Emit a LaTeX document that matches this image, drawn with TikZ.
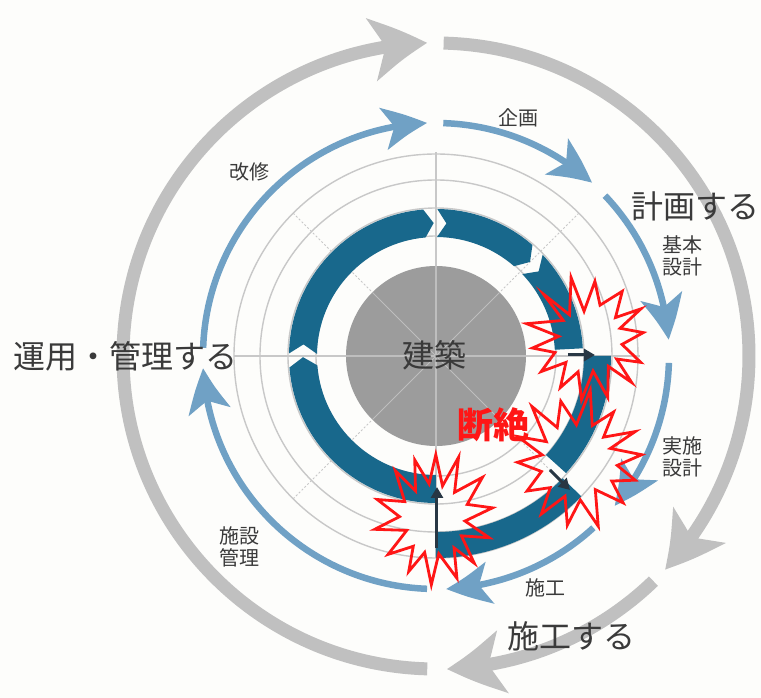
\documentclass[tikz,border=0pt]{standalone}
\usepackage{fontspec}
\newfontfamily\jp{Noto Sans CJK JP}
\usetikzlibrary{arrows.meta,bending,calc}
\definecolor{ringgray}{RGB}{192,192,192}
\definecolor{ringblue}{RGB}{112,161,197}
\definecolor{darkring}{RGB}{24,104,140}
\definecolor{diskgray}{RGB}{156,156,156}
\definecolor{gridgray}{RGB}{200,200,200}
\definecolor{disklines}{RGB}{190,190,190}
\definecolor{txtgray}{RGB}{58,58,58}
\definecolor{burstred}{RGB}{255,22,22}
\definecolor{darkarrow}{RGB}{40,55,68}
\definecolor{bgcol}{RGB}{253,253,251}
\begin{document}
\begin{tikzpicture}[x=1pt,y=1pt,
 outerring/.style={draw=ringgray,line width=13pt,-{Stealth[length=56pt,width=62pt,inset=14pt,bend]}},
 bluering/.style={draw=ringblue,line width=6.5pt,-{Stealth[length=44pt,width=42pt,inset=11pt,bend]}},
 gridline/.style={draw=gridgray,line width=1.4pt},
 diagline/.style={draw=gridgray,line width=1pt,dash pattern=on 2pt off 2pt},
 seg/.style={fill=darkring},
 tick/.style={draw=darkarrow,line width=3pt,-{Triangle[length=11pt,width=12pt]}},
 burst/.style={draw=burstred,line width=2.8pt,line join=miter,miter limit=20},
 bigtxt/.style={text=txtgray,font=\jp\fontsize{32}{32}\selectfont,inner sep=0pt},
 smalltxt/.style={text=txtgray,font=\jp\fontsize{20}{22}\selectfont,inner sep=0pt,align=center},
 redtxt/.style={text=burstred,font=\jp\bfseries\fontsize{36}{36}\selectfont,inner sep=0pt},
]
\useasboundingbox (-436,-342) rectangle (325,356);
\fill[bgcol] (-436,-342) rectangle (325,356);

% outer gray cycle
\draw[outerring] (268.4:313) arc[start angle=268.4,end angle=91.6,radius=313];
\draw[outerring] (88.6:313) arc[start angle=88.6,end angle=-43,radius=313];
\draw[outerring] (-46:313) arc[start angle=-46,end angle=-88,radius=313];

% blue cycle
\draw[bluering] (178:233) arc[start angle=178,end angle=92.2,radius=233];
\draw[bluering] (88.2:233) arc[start angle=88.2,end angle=48,radius=233];
\draw[bluering] (43.5:233) arc[start angle=43.5,end angle=4,radius=233];
\draw[bluering] (-1.7:233) arc[start angle=-1.7,end angle=-40,radius=233];
\draw[bluering] (-47.5:233) arc[start angle=-47.5,end angle=-87.5,radius=233];
\draw[bluering] (267.8:233) arc[start angle=267.8,end angle=183,radius=233];

% grid
\foreach \r in {120,148,176,202} \draw[gridline] (0,0) circle[radius=\r];
\draw[gridline] (-202,0) -- (204,0);
\draw[gridline] (0,-202) -- (0,204);
\foreach \a in {45,135,225,315} \draw[diagline] (0,0) -- (\a:202);

% centre disk
\node[circle,fill=diskgray,minimum size=180pt,inner sep=0pt] (disk) at (0,0) {};
\begin{scope}
 \clip (0,0) circle[radius=90];
 \draw[disklines,line width=1.4pt] (-90,0) -- (90,0) (0,-90) -- (0,90);
 \draw[disklines,line width=0.8pt] (45:90) -- (225:90) (135:90) -- (315:90);
\end{scope}

% dark segmented ring
\fill[seg] (270:147) arc[start angle=270,end angle=184.5,radius=147] -- (180.5:133) -- (184.5:119) arc[start angle=184.5,end angle=270,radius=119] -- cycle;
\fill[seg] (179:147) arc[start angle=179,end angle=95,radius=147] -- (91:133) -- (95:119) arc[start angle=95,end angle=179,radius=119] -- (175:133) -- cycle;
\fill[seg] (89.5:147) arc[start angle=89.5,end angle=49,radius=147] -- (45:133) -- (49:119) arc[start angle=49,end angle=89.5,radius=119] -- (85.5:133) -- cycle;
\fill[seg] (43.5:147) arc[start angle=43.5,end angle=3,radius=147] -- (3:119) arc[start angle=3,end angle=43.5,radius=119] -- (39.5:133) -- cycle;
\fill[seg] (0:175) arc[start angle=0,end angle=-42,radius=175] -- (-42:148) arc[start angle=-42,end angle=0,radius=148] -- cycle;
\fill[seg] (-44:202) arc[start angle=-44,end angle=-90,radius=202] -- (-90:176) arc[start angle=-90,end angle=-44,radius=176] -- cycle;

% small transfer arrows
\coordinate (t1a) at (132,1);
\coordinate (t1b) at (159,1);
\coordinate (t2a) at (114,-114);
\coordinate (t2b) at (134,-134);
\coordinate (t3a) at (1,-192);
\coordinate (t3b) at (1,-131);
\draw[tick] (t1a) -- (t1b);
\draw[tick] (t2a) -- (t2b);
\draw[tick] (t3a) -- (t3b);

% bursts
\coordinate (burstA) at (153,15);
\coordinate (burstB) at (142,-104);
\coordinate (burstC) at (-2,-162);
\pgfmathsetseed{23}
\begin{scope}[shift={(burstA)}]
 \draw[burst] plot[samples at={0,...,27},variable=\k] ({\k*12.857+5+4*rnd}:{mod(\k,2)==0 ? 54+14*rnd : 30+8*rnd}) -- cycle;
\end{scope}
\begin{scope}[shift={(burstB)}]
 \draw[burst] plot[samples at={0,...,27},variable=\k] ({\k*12.857+2+4*rnd}:{mod(\k,2)==0 ? 58+14*rnd : 33+8*rnd}) -- cycle;
\end{scope}
\begin{scope}[shift={(burstC)},yscale=1.15]
 \draw[burst] plot[samples at={0,...,27},variable=\k] ({\k*12.857+8+4*rnd}:{mod(\k,2)==0 ? 50+12*rnd : 29+7*rnd}) -- cycle;
\end{scope}

% texts
\node[bigtxt] (kenchiku) at (-1,1) {建築};
\node[redtxt] (danzetsu) at (58,-69) {断絶};
\node[bigtxt] (keikaku) at (260,150) {計画する};
\node[bigtxt] (unyou) at (-310,0) {運用・管理する};
\node[bigtxt] (sekou) at (136,-280) {施工する};
\node[smalltxt] (kikaku) at (83,238) {企画};
\node[smalltxt] (kaishu) at (-186,184) {改修};
\node[smalltxt] (kihon) at (246,100) {基本\\設計};
\node[smalltxt] (jisshi) at (246,-101) {実施\\設計};
\node[smalltxt] (sekou2) at (110,-232) {施工};
\node[smalltxt] (shisetsu) at (-196,-191) {施設\\管理};
\end{tikzpicture}
\end{document}
